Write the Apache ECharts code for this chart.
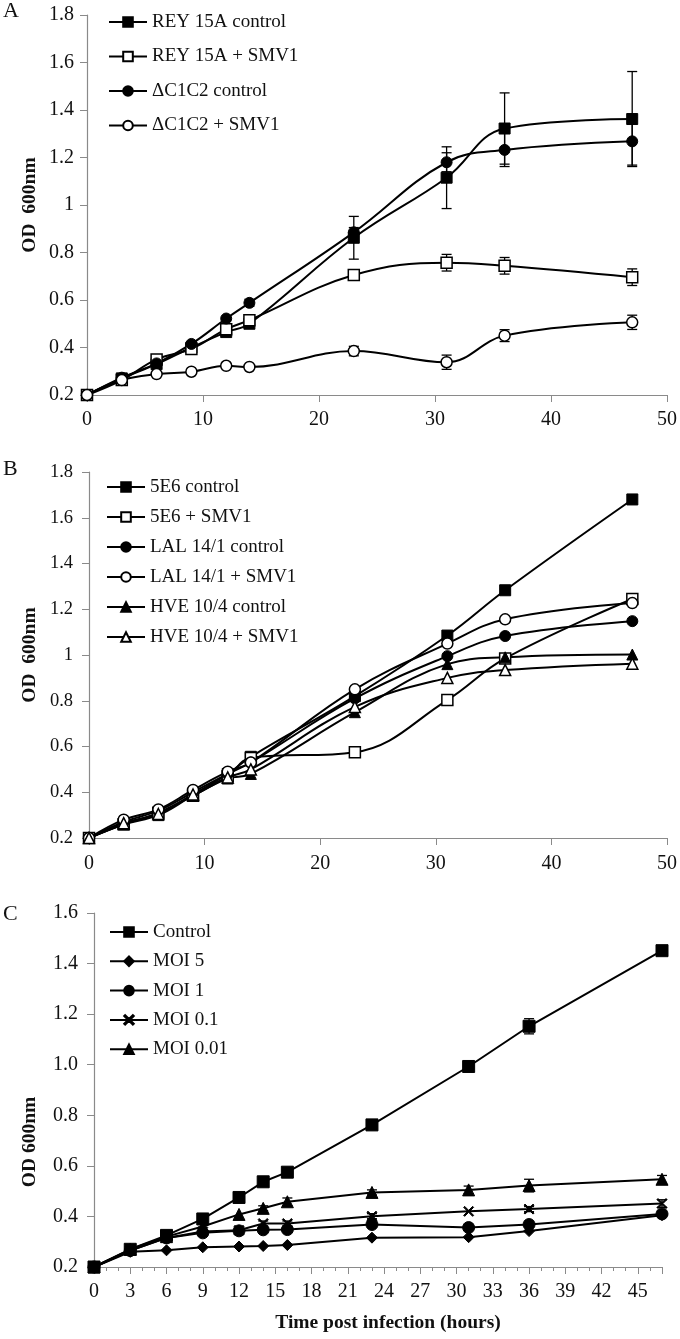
<!DOCTYPE html>
<html><head><meta charset="utf-8">
<script src="https://cdn.jsdelivr.net/npm/echarts@6/dist/echarts.min.js"></script>
<style>html,body{margin:0;padding:0;background:#fff}#c{width:680px;height:1339px}</style>
</head><body><div id="c"></div>
<script>
// ---------- Panel A ----------
const xA = [0, 3, 6, 9, 12, 14, 23, 31, 36, 47];
const reyControl      = [0.20, 0.27, 0.33, 0.40, 0.465, 0.50, 0.862, 1.115, 1.322, 1.362];
const reyControlErr   = [0, 0, 0, 0, 0, 0, 0.09, 0.13, 0.15, 0.20];
const reySmv1         = [0.20, 0.263, 0.35, 0.394, 0.477, 0.515, 0.705, 0.757, 0.744, 0.696];
const reySmv1Err      = [0, 0, 0, 0, 0, 0, 0.015, 0.035, 0.035, 0.035];
const dcControl       = [0.20, 0.273, 0.333, 0.415, 0.522, 0.588, 0.885, 1.18, 1.232, 1.268];
const dcControlErr    = [0, 0, 0, 0, 0, 0.015, 0.02, 0.04, 0.07, 0.10];
const dcSmv1          = [0.20, 0.263, 0.288, 0.298, 0.323, 0.318, 0.385, 0.338, 0.45, 0.506];
const dcSmv1Err       = [0, 0, 0, 0, 0, 0, 0.02, 0.03, 0.025, 0.03];
const namesA = ['REY 15A control', 'REY 15A + SMV1', '\u0394C1C2 control', '\u0394C1C2 + SMV1'];

// ---------- Panel B ----------
const xB = [0, 3, 6, 9, 12, 14, 23, 31, 36, 47];
const e6Control  = [0.20, 0.26, 0.31, 0.39, 0.48, 0.555, 0.82, 1.085, 1.283, 1.68];
const e6Smv1     = [0.20, 0.26, 0.31, 0.385, 0.47, 0.55, 0.575, 0.803, 0.985, 1.245];
const lalControl = [0.20, 0.27, 0.32, 0.40, 0.48, 0.53, 0.81, 0.995, 1.083, 1.148];
const lalSmv1    = [0.20, 0.28, 0.325, 0.41, 0.49, 0.53, 0.85, 1.05, 1.156, 1.227];
const hveControl = [0.20, 0.26, 0.30, 0.385, 0.46, 0.48, 0.75, 0.96, 0.99, 1.002];
const hveSmv1    = [0.20, 0.265, 0.305, 0.39, 0.465, 0.50, 0.773, 0.90, 0.934, 0.962];
const namesB = ['5E6 control', '5E6 + SMV1', 'LAL 14/1 control', 'LAL 14/1 + SMV1', 'HVE 10/4 control', 'HVE 10/4 + SMV1'];

// ---------- Panel C ----------
const xC = [0, 3, 6, 9, 12, 14, 16, 23, 31, 36, 47];
const cControl   = [0.20, 0.27, 0.325, 0.39, 0.475, 0.537, 0.575, 0.762, 0.993, 1.152, 1.451];
const cControlErr= [0, 0, 0, 0, 0, 0, 0, 0, 0, 0.03, 0.01];
const moi5       = [0.20, 0.26, 0.266, 0.278, 0.281, 0.283, 0.287, 0.316, 0.318, 0.342, 0.405];
const moi5Err    = [0, 0, 0, 0, 0, 0, 0, 0, 0, 0, 0];
const moi1       = [0.20, 0.265, 0.315, 0.335, 0.343, 0.347, 0.348, 0.368, 0.356, 0.368, 0.41];
const moi1Err    = [0, 0, 0, 0, 0, 0, 0, 0, 0, 0, 0.01];
const moi01      = [0.20, 0.265, 0.315, 0.34, 0.345, 0.372, 0.372, 0.401, 0.42, 0.429, 0.451];
const moi01Err   = [0, 0, 0, 0, 0, 0.01, 0.01, 0.01, 0, 0.01, 0.015];
const moi001     = [0.20, 0.27, 0.32, 0.36, 0.408, 0.432, 0.458, 0.495, 0.505, 0.522, 0.547];
const moi001Err  = [0, 0, 0, 0, 0, 0.01, 0.015, 0.01, 0.015, 0.025, 0.015];
const namesC = ['Control', 'MOI 5', 'MOI 1', 'MOI 0.1', 'MOI 0.01'];

const SERIF = '"Liberation Serif", "DejaVu Serif", serif';
const AX = '#8a8a8a';
const XPATH = 'path://M1,0 L5,4 L9,0 L10,1 L6,5 L10,9 L9,10 L5,6 L1,10 L0,9 L4,5 L0,1 Z';

function pts(xs, ys) { return xs.map((x, i) => [x, ys[i]]); }
function errPts(xs, ys, es) { return xs.map((x, i) => [x, ys[i], es[i]]).filter(d => d[2] > 0); }

function lineSeries(name, xs, ys, idx, symbol, filled, size, smooth) {
  return {
    type: 'line', name, xAxisIndex: idx, yAxisIndex: idx,
    data: pts(xs, ys), smooth: smooth, symbol, symbolSize: size, showAllSymbol: true,
    lineStyle: { color: '#000', width: 2 },
    itemStyle: { color: filled ? '#000' : '#fff', borderColor: '#000', borderWidth: filled ? 1 : 1.5 },
    emphasis: { disabled: true }, z: 3, animation: false
  };
}
function errSeries(xs, ys, es, idx) {
  return {
    type: 'custom', xAxisIndex: idx, yAxisIndex: idx, data: errPts(xs, ys, es), z: 2, animation: false,
    silent: true,
    renderItem: function (params, api) {
      const x = api.value(0), y = api.value(1), e = api.value(2);
      const top = api.coord([x, y + e]), bot = api.coord([x, y - e]);
      const w = 5;
      const st = { stroke: '#000', lineWidth: 1.3 };
      return { type: 'group', children: [
        { type: 'line', shape: { x1: top[0], y1: top[1], x2: bot[0], y2: bot[1] }, style: st },
        { type: 'line', shape: { x1: top[0] - w, y1: top[1], x2: top[0] + w, y2: top[1] }, style: st },
        { type: 'line', shape: { x1: bot[0] - w, y1: bot[1], x2: bot[0] + w, y2: bot[1] }, style: st }
      ]};
    }
  };
}

function lbl(size, margin) { return { fontFamily: SERIF, fontSize: size, color: '#111', margin }; }
function xAxis(idx, max, interval, minor, size, margin) {
  return {
    type: 'value', gridIndex: idx, min: 0, max, interval,
    axisLine: { lineStyle: { color: AX, width: 1.2 } },
    axisTick: { show: true, length: 7, lineStyle: { color: AX } },
    minorTick: minor ? { show: true, splitNumber: 3, length: 4, lineStyle: { color: AX } } : { show: false },
    splitLine: { show: false },
    axisLabel: Object.assign({ showMaxLabel: !minor }, lbl(size, margin))
  };
}
function yAxis(idx, max, fixed, size, margin) {
  return {
    type: 'value', gridIndex: idx, min: 0.2, max, interval: 0.2,
    axisLine: { show: true, lineStyle: { color: AX, width: 1.2 } },
    axisTick: { show: true, length: 7, lineStyle: { color: AX } },
    splitLine: { show: false },
    axisLabel: Object.assign({ formatter: v => fixed ? v.toFixed(1) : String(+v.toFixed(1)) }, lbl(size, margin))
  };
}
function legend(names, left, top, gap) {
  return {
    data: names, orient: 'vertical', left, top, itemGap: gap, itemWidth: 38, itemHeight: 12,
    textStyle: { fontFamily: SERIF, fontSize: 19, color: '#111', lineHeight: 20 },
    selectedMode: false
  };
}

const series = [];
// A
series.push(errSeries(xA, reyControl, reyControlErr, 0));
series.push(errSeries(xA, reySmv1, reySmv1Err, 0));
series.push(errSeries(xA, dcControl, dcControlErr, 0));
series.push(errSeries(xA, dcSmv1, dcSmv1Err, 0));
series.push(lineSeries(namesA[0], xA, reyControl, 0, 'rect', true, 11, 0.4));
series.push(lineSeries(namesA[1], xA, reySmv1, 0, 'rect', false, 11, 0.4));
series.push(lineSeries(namesA[2], xA, dcControl, 0, 'circle', true, 11, 0.4));
series.push(lineSeries(namesA[3], xA, dcSmv1, 0, 'circle', false, 11, 0.4));
// B
series.push(lineSeries(namesB[0], xB, e6Control, 1, 'rect', true, 11, 0.4));
series.push(lineSeries(namesB[1], xB, e6Smv1, 1, 'rect', false, 11, 0.4));
series.push(lineSeries(namesB[2], xB, lalControl, 1, 'circle', true, 11, 0.4));
series.push(lineSeries(namesB[3], xB, lalSmv1, 1, 'circle', false, 11, 0.4));
series.push(lineSeries(namesB[4], xB, hveControl, 1, 'triangle', true, 11, 0.4));
series.push(lineSeries(namesB[5], xB, hveSmv1, 1, 'triangle', false, 11, 0.4));
// C
series.push(errSeries(xC, cControl, cControlErr, 2));
series.push(errSeries(xC, moi5, moi5Err, 2));
series.push(errSeries(xC, moi1, moi1Err, 2));
series.push(errSeries(xC, moi01, moi01Err, 2));
series.push(errSeries(xC, moi001, moi001Err, 2));
series.push(lineSeries(namesC[0], xC, cControl, 2, 'rect', true, 12, false));
series.push(lineSeries(namesC[1], xC, moi5, 2, 'diamond', true, 11, false));
series.push(lineSeries(namesC[2], xC, moi1, 2, 'circle', true, 12, false));
series.push(lineSeries(namesC[3], xC, moi01, 2, XPATH, true, 10, false));
series.push(lineSeries(namesC[4], xC, moi001, 2, 'triangle', true, 12, false));

const titleFont = 'bold 19.5px ' + SERIF;
const option = {
  animation: false,
  backgroundColor: '#fff',
  grid: [
    { left: 87, top: 15, width: 581, height: 380 },
    { left: 89, top: 472, width: 578, height: 366 },
    { left: 94, top: 913, width: 568, height: 354 }
  ],
  xAxis: [xAxis(0, 50, 10, false, 20, 15), xAxis(1, 50, 10, false, 20, 16), xAxis(2, 47, 3, true, 20, 15)],
  yAxis: [yAxis(0, 1.8, false, 20, 13), yAxis(1, 1.8, false, 18.5, 16), yAxis(2, 1.6, true, 20, 16)],
  legend: [
    legend(namesA, 103, 7, 14.5),
    legend(namesB, 101, 472, 10),
    legend(namesC, 104, 917, 9.3)
  ],
  graphic: [
    { type: 'text', left: 3, top: 0, style: { text: 'A', font: '22px ' + SERIF, fill: '#111' } },
    { type: 'text', left: 3, top: 458, style: { text: 'B', font: '22px ' + SERIF, fill: '#111' } },
    { type: 'text', left: 3, top: 903, style: { text: 'C', font: '22px ' + SERIF, fill: '#111' } },
    { type: 'text', x: 30, y: 205, rotation: Math.PI / 2, style: { text: 'OD  600nm', font: titleFont, fill: '#111', align: 'center', verticalAlign: 'middle' } },
    { type: 'text', x: 30, y: 655, rotation: Math.PI / 2, style: { text: 'OD  600nm', font: titleFont, fill: '#111', align: 'center', verticalAlign: 'middle' } },
    { type: 'text', x: 30, y: 1142, rotation: Math.PI / 2, style: { text: 'OD 600nm', font: titleFont, fill: '#111', align: 'center', verticalAlign: 'middle' } },
    { type: 'text', x: 388, y: 1323, style: { text: 'Time post infection (hours)', font: titleFont, fill: '#111', align: 'center', verticalAlign: 'middle' } }
  ],
  series
};
const chart = echarts.init(document.getElementById('c'), null, { renderer: 'canvas' });
chart.setOption(option);
</script></body></html>
